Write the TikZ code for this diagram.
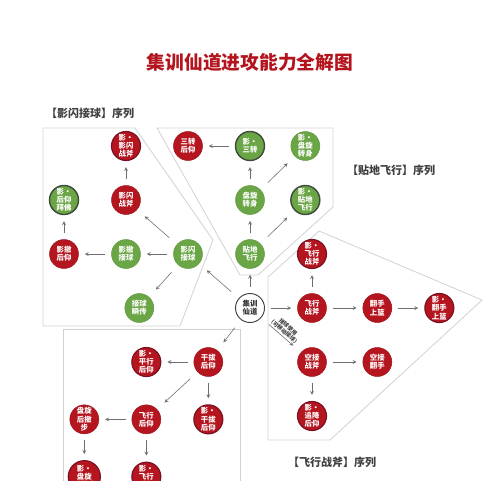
\documentclass[tikz,border=0pt]{standalone}
\usepackage{fontspec}
\setmainfont{Noto Sans CJK SC}
\usepackage{tikz}
\usetikzlibrary{arrows}
\usetikzlibrary {positioning}
\definecolor{titlered}{HTML}{B4141E}
\definecolor{ballred}{HTML}{B5151F}
\definecolor{edgered}{HTML}{7A1024}
\definecolor{ballgreen}{HTML}{6BA646}
\definecolor{edgegreen}{HTML}{3E4B3C}
\definecolor{framegray}{HTML}{D2D2D2}
\definecolor{arrowgray}{HTML}{6E6E6E}

\begin{document}
\begin{tikzpicture}[x = 0.3mm, y = 0.3mm, auto, node distance = 1.62cm and 1.86cm, on grid,
	ball/.style = {circle, minimum size = 8.7mm, inner sep = 0pt, align = center, text = white, font = \fontsize{6.3}{7}\selectfont\bfseries},
	redball/.style = {ball, fill = ballred, draw = ballred!85!black, line width = 0.4pt},
	redshadow/.style = {ball, fill = ballred, draw = edgered, line width = 1pt},
	greenball/.style = {ball, fill = ballgreen, draw = ballgreen!90!black, line width = 0.4pt},
	greenshadow/.style = {ball, fill = ballgreen, draw = edgegreen, line width = 1.2pt},
	hub/.style = {ball, fill = white, draw = black!75, line width = 0.8pt, text = black!80},
	link/.style = {-stealth, arrowgray, line width = 0.5pt, shorten <= 1.8mm, shorten >= 1.8mm},
	far/.style = {shorten <= 3mm, shorten >= 3mm},
	region/.style = {framegray, line width = 0.7pt},
	seqlabel/.style = {anchor = west, font = \fontsize{9.4}{11}\selectfont\bfseries, text = black!75}]
	\useasboundingbox (0,0) rectangle (500,-480);
	\clip (0,0) rectangle (500,-480);
	% frames
	\draw[region] (43,-128) -- (135,-128) -- (213,-240) -- (180,-326) -- (43,-326) -- cycle;
	\draw[region] (157,-128) -- (333,-128) -- (333,-207) -- (258,-275) -- (240,-275) -- cycle;
	\draw[region] (268,-440) -- (268,-277) -- (319,-231) -- (482,-300) -- (330,-440) -- cycle;
	\draw[region] (63,-490) -- (63,-329) -- (240,-329) -- (240,-490);
	% titles
	\node[font = \fontsize{16}{18}\selectfont\bfseries, text = titlered] (title) at (250,-62) {集训仙道进攻能力全解图};
	\node[seqlabel] (seqflash) at (42,-113) {【影闪接球】序列};
	\node[seqlabel] (seqground) at (343,-170) {【贴地飞行】序列};
	\node[seqlabel] (seqaxe) at (284,-462) {【飞行战斧】序列};
	% nodes
	\node[hub] (hub) at (250,-308) {集训\\仙道};
	\node[greenball] (ground) [above = of hub] {贴地\\飞行};
	\node[greenball] (spin) [above = of ground] {盘旋\\转身};
	\node[greenshadow] (shtriple) [above = of spin] {影·\\三转};
	\node[redball] (triple) [left = of shtriple] {三转\\后仰};
	\node[greenball] (shspin) [right = of shtriple, xshift = -0.2cm] {影·\\盘旋\\转身};
	\node[greenshadow] (shground) [right = of spin, xshift = -0.2cm] {影·\\贴地\\飞行};
	\node[greenball] (flash) [left = of ground] {影闪\\接球};
	\node[greenball] (retreat) [left = of flash] {影撤\\接球};
	\node[redball] (fade) [left = of retreat] {影撤\\后仰};
	\node[greenshadow] (shfade) [above = of fade] {影·\\后仰\\拜佛};
	\node[redball] (axe) [above = of retreat] {影闪\\战斧};
	\node[redshadow] (shaxe) [above = of axe] {影·\\影闪\\战斧};
	\node[greenball] (pass) [below = of retreat, xshift = 0.4cm] {接球\\瞬传};
	\node[redball] (fly) [right = of hub] {飞行\\战斧};
	\node[redshadow] (shfly) [above = of fly] {影·\\飞行\\战斧};
	\node[redball] (flip) [right = of fly, xshift = 0.1cm] {翻手\\上篮};
	\node[redshadow] (shflip) [right = of flip] {影·\\翻手\\上篮};
	\node[redball] (alley) [below = of fly] {空接\\战斧};
	\node[redball] (alleyflip) [right = of alley, xshift = 0.1cm] {空接\\翻手};
	\node[redshadow] (shchase) [below = of alley] {影·\\追降\\后仰};
	\node[redball] (pullup) [below = of hub, xshift = -1.25cm] {干拔\\后仰};
	\node[redshadow] (shlevel) [left = of pullup] {影·\\平行\\后仰};
	\node[redshadow] (shpullup) [below = of pullup, yshift = -0.1cm] {影·\\干拔\\后仰};
	\node[redball] (flyfade) [below = of shlevel, yshift = -0.1cm] {飞行\\后仰};
	\node[redball] (stepback) [left = of flyfade] {盘旋\\后撤\\步};
	\node[redshadow] (shstepback) [below = of stepback, yshift = -0.1cm] {影·\\盘旋\\后撤步};
	\node[redshadow] (shflyfade) [below = of flyfade, yshift = -0.1cm] {影·\\飞行\\后仰};
	% arrows
	\draw[link] (flash) -- (retreat);
	\draw[link] (retreat) -- (fade);
	\draw[link] (fade) -- (shfade);
	\draw[link] (axe) -- (shaxe);
	\draw[link, far] (flash) -- (axe);
	\draw[link, far] (flash) -- (pass);
	\draw[link, far] (hub) -- (flash);
	\draw[link] (hub) -- (ground);
	\draw[link] (ground) -- (spin);
	\draw[link] (spin) -- (shtriple);
	\draw[link] (shtriple) -- (triple);
	\draw[link, far] (spin) -- (shspin);
	\draw[link, far] (ground) -- (shground);
	\draw[link] (hub) -- (fly);
	\draw[link] (fly) -- (shfly);
	\draw[link] (fly) -- (flip);
	\draw[link] (flip) -- (shflip);
	\draw[link, far] (hub) -- node[sloped, above, align = center, inner sep = 1.5pt, text = black!75, font = \fontsize{4.7}{5.2}\selectfont\bfseries]{接球使用\\（可移动接球）} (alley);
	\draw[link] (alley) -- (alleyflip);
	\draw[link] (alley) -- (shchase);
	\draw[link, far] (hub) -- (pullup);
	\draw[link] (pullup) -- (shlevel);
	\draw[link] (pullup) -- (shpullup);
	\draw[link, far] (pullup) -- (flyfade);
	\draw[link] (flyfade) -- (stepback);
	\draw[link] (stepback) -- (shstepback);
	\draw[link] (flyfade) -- (shflyfade);
\end{tikzpicture}
\end{document}
